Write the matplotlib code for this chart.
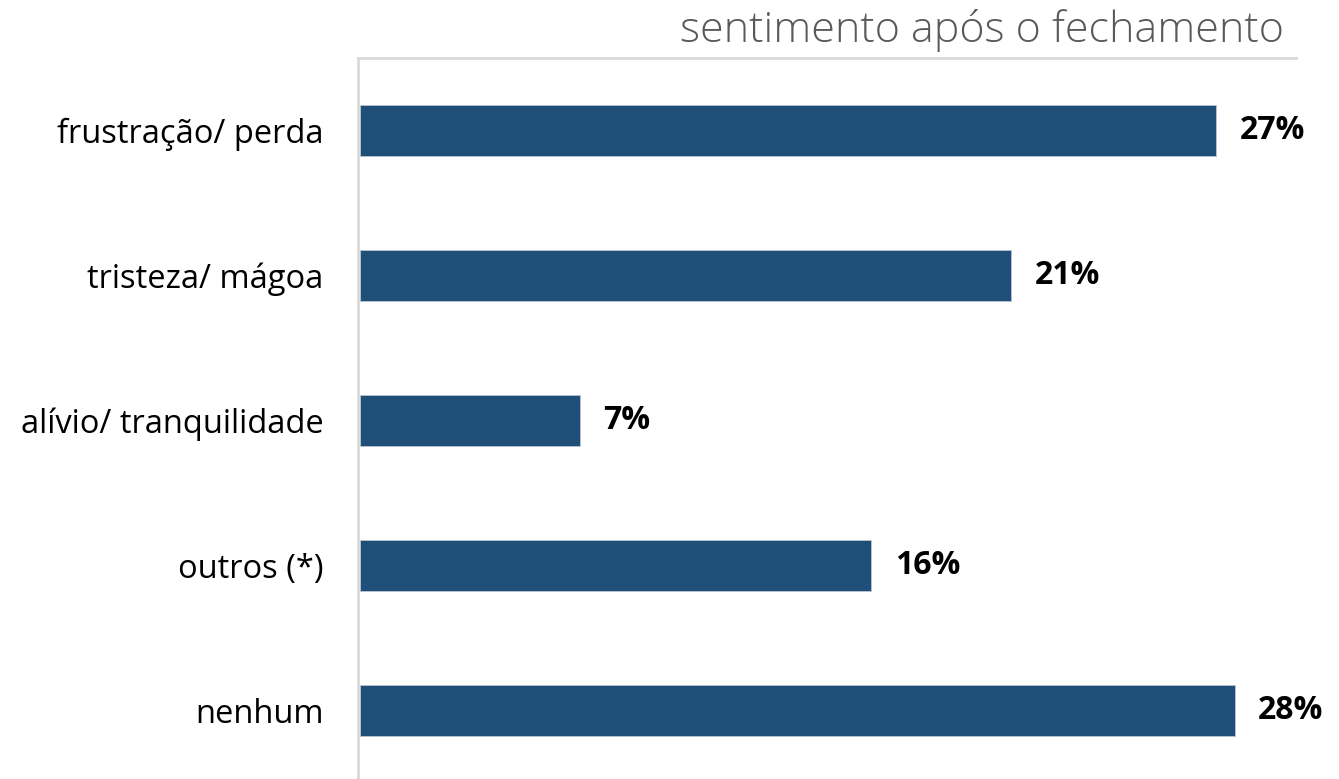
import matplotlib.pyplot as plt

categories = ["frustração/ perda", "tristeza/ mágoa", "alívio/ tranquilidade", "outros (*)", "nenhum"]
values = [27.2, 20.7, 7.0, 16.25, 27.8]
value_labels = ["27%", "21%", "7%", "16%", "28%"]
title = "sentimento após o fechamento"

bar_color = "#1F4E79"
line_color = "#D9D9D9"

fig = plt.figure(figsize=(13.39, 7.79), dpi=100)
ax = fig.add_axes([358 / 1339, -4 / 779, 938 / 1339, 725 / 779])

y = list(range(len(categories)))
ax.barh(y, values, height=0.35, color=bar_color, edgecolor="#B8C4D2", linewidth=0.6)
ax.set_ylim(len(categories) - 0.5, -0.5)
ax.set_xlim(-0.05, 29.75)

for yi, v, lab in zip(y, values, value_labels):
    ax.text(v + 0.75, yi, lab, va="center", ha="left", fontsize=23,
            fontweight="bold", family="Open Sans", color="black")

ax.set_yticks(y)
ax.set_yticklabels(categories, fontsize=23.5, family="Open Sans")
ax.tick_params(axis="y", length=0, pad=25)
ax.set_xticks([])

for side in ["right", "bottom"]:
    ax.spines[side].set_visible(False)
for side in ["left", "top"]:
    ax.spines[side].set_color(line_color)
    ax.spines[side].set_linewidth(2)

fig.text(1284 / 1339, 1 - 31 / 779, title, ha="right", va="center",
         fontsize=31, family="Open Sans", fontweight="light", color="#595959")

fig.savefig("out.png", dpi=100)
